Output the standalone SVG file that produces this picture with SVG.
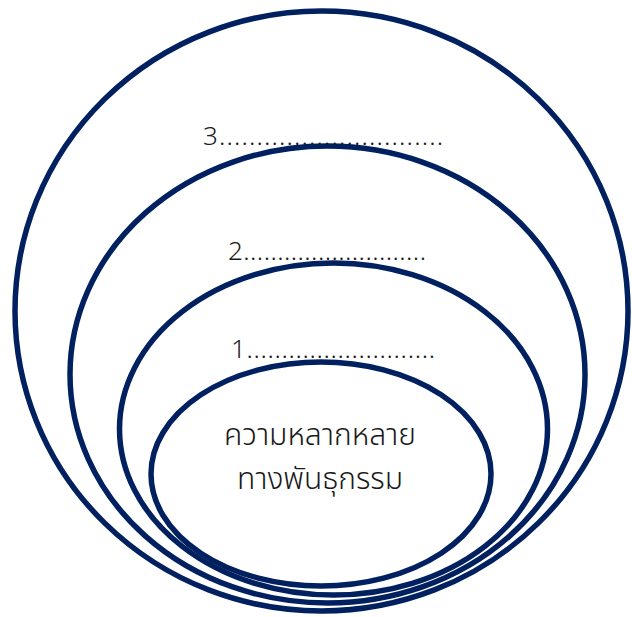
<svg xmlns="http://www.w3.org/2000/svg" width="632" height="617" viewBox="0 0 632 617">
<style>
.ring{fill:none;stroke:#002060;stroke-width:5.5}
.lbl{font-family:"Noto Sans Thai","Noto Sans","DejaVu Sans",sans-serif;font-size:26px;font-weight:300;fill:#1a1a1a}
.th{font-family:"Noto Sans Thai","Noto Sans","DejaVu Sans",sans-serif;font-size:30px;font-weight:300;fill:#1a1a1a;text-anchor:middle}
</style>
<rect width="632" height="617" fill="#ffffff"/>
<g id="ring3"><ellipse class="ring" cx="321.5" cy="311" rx="306.5" ry="300"/></g>
<g id="ring2"><ellipse class="ring" cx="327.5" cy="374.5" rx="257.5" ry="228.5"/></g>
<g id="ring1"><ellipse class="ring" cx="333.5" cy="429" rx="214" ry="166"/></g>
<g id="core"><ellipse class="ring" cx="321" cy="474" rx="170" ry="112"/>
<text class="th" x="320" y="445">ความหลากหลาย</text>
<text class="th" x="320" y="489">ทางพันธุกรรม</text></g>
<g id="labels">
<text class="lbl" x="203" y="145" textLength="240" lengthAdjust="spacing">3..............................</text>
<text class="lbl" x="228" y="260" textLength="198" lengthAdjust="spacing">2...........................</text>
<text class="lbl" x="231" y="358" textLength="204" lengthAdjust="spacing">1...........................</text>
</g>
</svg>
